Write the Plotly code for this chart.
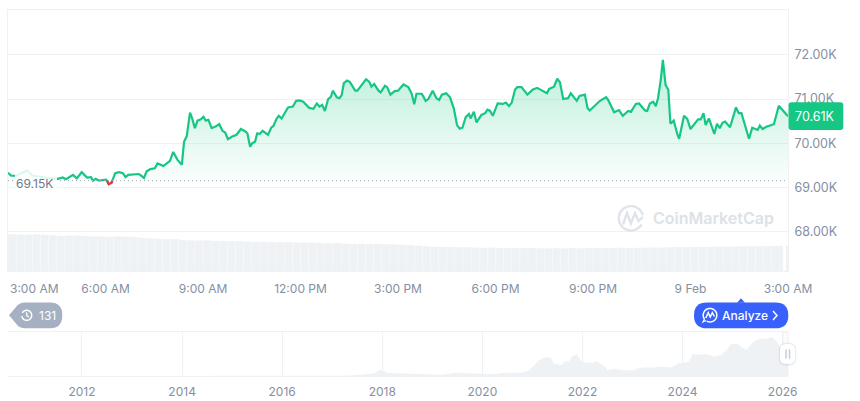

import math
import pandas as pd
import plotly.graph_objects as go

W = 860
H = 401
GREEN = '#16c784'
RED = '#ea3943'
GREY_TEXT = '#858fa2'
PALE = '#eff2f5'
FONT = 'Inter'

# main price line, minutes after 3:00 AM and price in thousands of USD
price_minutes = [
    0, 6, 15, 25, 35, 46, 59, 74, 92, 101,
    107, 120, 127, 136, 146, 153, 157, 162, 168, 181,
    186, 191, 198, 205, 212, 217, 222, 231, 241, 244,
    251, 256, 263, 271, 276, 287, 299, 305, 313, 321,
    325, 330, 336, 340, 345, 350, 356, 361, 365, 370,
    376, 382, 390, 396, 401, 406, 414, 422, 430, 439,
    442, 447, 451, 456, 460, 465, 470, 480, 486, 490,
    496, 500, 505, 517, 526, 532, 538, 545, 556, 564,
    570, 575, 580, 585, 591, 596, 600, 607, 612, 616,
    620, 626, 631, 641, 645, 661, 667, 671, 676, 684,
    688, 696, 700, 706, 714, 720, 730, 739, 745, 750,
    754, 764, 771, 776, 784, 791, 796, 801, 809, 816,
    823, 829, 834, 839, 845, 851, 854, 860, 865, 874,
    881, 885, 890, 895, 904, 914, 919, 925, 930, 936,
    940, 948, 959, 969, 977, 982, 995, 999, 1008, 1014,
    1019, 1025, 1034, 1039, 1050, 1055, 1065, 1070, 1074, 1093,
    1104, 1108, 1119, 1128, 1135, 1145, 1150, 1159, 1165, 1176,
    1180, 1185, 1191, 1196, 1200, 1205, 1209, 1214, 1219, 1223,
    1229, 1236, 1239, 1248, 1254, 1260, 1274, 1279, 1284, 1288,
    1294, 1304, 1309, 1314, 1319, 1324, 1333, 1344, 1349, 1354,
    1361, 1368, 1374, 1384, 1388, 1393, 1400, 1414, 1423, 1440,
]
price_values = [
    69.33, 69.26, 69.26, 69.32, 69.38, 69.26, 69.23, 69.21, 69.19, 69.22,
    69.18, 69.28, 69.20, 69.34, 69.22, 69.23, 69.15, 69.19, 69.15, 69.17,
    69.07, 69.10, 69.32, 69.34, 69.32, 69.23, 69.28, 69.29, 69.30, 69.28,
    69.21, 69.36, 69.41, 69.43, 69.54, 69.48, 69.60, 69.80, 69.62, 69.51,
    70.03, 70.16, 70.69, 70.56, 70.34, 70.51, 70.54, 70.60, 70.51, 70.53,
    70.34, 70.37, 70.43, 70.28, 70.24, 70.09, 70.15, 70.19, 70.32, 70.26,
    70.22, 69.92, 70.00, 70.03, 70.22, 70.21, 70.28, 70.19, 70.35, 70.39,
    70.56, 70.62, 70.56, 70.81, 70.83, 70.96, 70.97, 70.94, 70.80, 70.78,
    70.90, 70.83, 70.87, 70.73, 71.00, 71.05, 71.19, 71.04, 71.02, 71.09,
    71.36, 71.42, 71.39, 71.19, 71.19, 71.45, 71.39, 71.28, 71.34, 71.19,
    71.15, 71.30, 71.27, 71.10, 71.18, 71.19, 71.33, 71.27, 71.13, 70.88,
    71.12, 71.12, 70.96, 71.00, 71.19, 71.02, 70.98, 71.10, 71.13, 71.04,
    70.79, 70.41, 70.33, 70.35, 70.59, 70.66, 70.56, 70.71, 70.47, 70.64,
    70.68, 70.76, 70.73, 70.62, 70.90, 70.89, 70.92, 70.84, 70.92, 71.21,
    71.27, 71.27, 71.10, 71.22, 71.25, 71.22, 71.13, 71.23, 71.28, 71.46,
    71.38, 71.00, 71.02, 71.13, 70.96, 71.07, 71.10, 70.79, 70.74, 70.96,
    71.04, 70.98, 70.70, 70.75, 70.62, 70.73, 70.71, 70.89, 70.90, 70.74,
    70.73, 70.90, 70.94, 70.84, 71.02, 71.43, 71.89, 71.32, 71.21, 70.44,
    70.51, 70.19, 70.10, 70.62, 70.55, 70.32, 70.54, 70.54, 70.68, 70.41,
    70.56, 70.21, 70.44, 70.34, 70.46, 70.49, 70.36, 70.81, 70.68, 70.68,
    70.36, 70.10, 70.35, 70.30, 70.40, 70.32, 70.37, 70.43, 70.85, 70.61,
]
base_price = 69.15
last_price = 70.61

# the short stretch under the reference price
red_minutes = [183, 186, 191, 193]
red_values = [69.15, 69.07, 69.10, 69.15]

# volume bars, billions of USD
volume_values = [
    56.3, 56.0, 55.6, 56.1, 55.4, 54.7, 53.9, 54.2, 54.3, 53.6, 53.0, 52.8,
    52.5, 52.9, 52.7, 52.2, 51.0, 50.2, 49.3, 48.6, 48.9, 47.8, 47.0, 46.6,
    47.1, 46.4, 46.0, 45.7, 45.9, 45.2, 44.5, 44.9, 44.2, 43.8, 44.3, 43.6,
    43.9, 43.4, 43.0, 42.6, 42.9, 42.0, 41.7, 41.9, 41.3, 41.5, 41.0, 40.8,
    40.3, 39.7, 38.9, 37.9, 37.2, 37.0, 36.8, 36.3, 36.5, 35.9, 35.6, 35.8,
    35.4, 35.1, 35.3, 35.0, 35.2, 34.8, 34.6, 34.9, 34.7, 35.0, 34.8, 35.2,
    35.4, 35.1, 35.5, 35.7, 35.3, 35.6, 35.9, 36.2, 36.0, 36.4, 36.7, 36.5,
    37.0, 36.8, 37.2, 37.5, 37.3, 37.7, 37.9, 38.2, 38.0, 38.4, 38.6,
]
volume_tail_minutes = [1428, 1438]
volume_tail_widths = [6, 4]
volume_tail_values = [38.7, 38.9]

y_ticks = [68, 69, 70, 71, 72]
y_labels = ['68.00K', '69.00K', '70.00K', '71.00K', '72.00K']
x_tick_minutes = [180, 360, 540, 720, 900, 1080, 1260, 1440]
x_tick_labels = ['6:00 AM', '9:00 AM', '12:00 PM', '3:00 PM', '6:00 PM', '9:00 PM', '9 Feb', '3:00 AM']

# overview strip, BTC price history in thousands of USD
nav_dates = [
    '2010-07-10', '2012-01-01', '2013-03-01', '2013-12-01', '2014-06-01', '2015-01-01', '2016-01-01', '2016-12-01',
    '2017-03-01', '2017-06-01', '2017-09-01', '2017-11-01', '2017-12-17', '2018-01-15', '2018-02-15', '2018-05-01',
    '2018-08-01', '2018-11-01', '2018-12-15', '2019-03-01', '2019-06-26', '2019-09-01', '2019-12-15', '2020-03-15',
    '2020-06-01', '2020-08-15', '2020-10-08', '2020-12-06', '2021-01-01', '2021-01-26', '2021-02-17', '2021-03-15',
    '2021-04-20', '2021-05-18', '2021-06-02', '2021-07-27', '2021-09-02', '2021-09-24', '2021-10-20', '2021-11-22',
    '2021-12-20', '2022-01-26', '2022-02-17', '2022-03-15', '2022-04-10', '2022-05-15', '2022-06-20', '2022-07-01',
    '2022-08-18', '2022-10-08', '2022-11-25', '2023-01-12', '2023-02-06', '2023-03-25', '2023-06-06', '2023-07-27',
    '2023-10-08', '2023-12-06', '2024-02-17', '2024-03-15', '2024-05-01', '2024-06-06', '2024-07-12', '2024-08-18',
    '2024-10-08', '2024-11-18', '2024-12-20', '2025-02-06', '2025-03-18', '2025-04-12', '2025-05-26', '2025-07-20',
    '2025-09-02', '2025-10-12', '2025-11-15', '2025-12-10', '2026-02-09',
]
nav_values = [
    0.1, 0.1, 0.1, 0.9, 0.6, 0.3, 0.4, 0.9,
    1.1, 2.7, 4.2, 7.5, 19.3, 13.5, 9.5, 9.0,
    7.0, 5.5, 3.3, 3.9, 10.5, 9.8, 7.0, 5.2,
    9.5, 10.5, 10.0, 17.0, 29.0, 38.0, 50.0, 56.0,
    60.0, 57.0, 40.0, 35.0, 48.0, 45.0, 63.0, 68.0,
    48.0, 41.0, 43.0, 41.0, 47.0, 38.0, 27.0, 18.0,
    23.0, 19.0, 17.0, 17.0, 24.0, 27.0, 27.0, 30.0,
    27.0, 40.0, 45.0, 69.0, 67.0, 69.0, 67.0, 61.0,
    66.0, 80.0, 101.0, 101.0, 88.0, 83.0, 106.0, 117.0,
    117.0, 123.0, 111.0, 92.0, 70.0,
]
nav_years = ['2012-01-01', '2014-01-01', '2016-01-01', '2018-01-01', '2020-01-01', '2022-01-01', '2024-01-01', '2026-01-01']
nav_labels = ['2012', '2014', '2016', '2018', '2020', '2022', '2024', '2026']

START = pd.Timestamp('2026-02-08 03:00')


def to_time(minutes):
    return [START + pd.Timedelta(minutes=m) for m in minutes]


def px(x):
    return x / W


def py(y):
    return 1 - y / H


def poly(points, close=True):
    parts = [f'{"M" if i == 0 else "L"}{px(x):.5f},{py(y):.5f}' for i, (x, y) in enumerate(points)]
    return ' '.join(parts) + (' Z' if close else '')


def rounded(x0, y0, x1, y1, r):
    return (f'M{px(x0 + r):.5f},{py(y0):.5f} L{px(x1 - r):.5f},{py(y0):.5f} '
            f'Q{px(x1):.5f},{py(y0):.5f} {px(x1):.5f},{py(y0 + r):.5f} L{px(x1):.5f},{py(y1 - r):.5f} '
            f'Q{px(x1):.5f},{py(y1):.5f} {px(x1 - r):.5f},{py(y1):.5f} L{px(x0 + r):.5f},{py(y1):.5f} '
            f'Q{px(x0):.5f},{py(y1):.5f} {px(x0):.5f},{py(y1 - r):.5f} L{px(x0):.5f},{py(y0 + r):.5f} '
            f'Q{px(x0):.5f},{py(y0):.5f} {px(x0 + r):.5f},{py(y0):.5f} Z')


def arc(cx, cy, r, start, end, steps=40):
    pts = []
    for i in range(steps + 1):
        a = math.radians(start + (end - start) * i / steps)
        pts.append((cx + r * math.cos(a), cy + r * math.sin(a)))
    return pts


def shape(path, fill='rgba(0,0,0,0)', line=None, width=0):
    return dict(type='path', path=path, xref='paper', yref='paper', fillcolor=fill, layer='above',
                line=dict(color=line or 'rgba(0,0,0,0)', width=width))


def label(x, y, text, color=GREY_TEXT, size=12, anchor='left', weight=400):
    return dict(x=px(x), y=py(y), xref='paper', yref='paper', text=text, showarrow=False, xanchor=anchor,
                yanchor='middle', font=dict(family=FONT, size=size, color=color, weight=weight))


fig = go.Figure()

times = to_time(price_minutes)
fig.add_trace(go.Scatter(x=times, y=[base_price] * len(times), mode='lines', line=dict(width=0), hoverinfo='skip'))
fig.add_trace(go.Scatter(
    x=times, y=price_values, mode='lines', fill='tonexty',
    line=dict(color=GREEN, width=2.2),
    fillgradient=dict(type='vertical', start=72.0, stop=base_price,
                      colorscale=[[0, 'rgba(22,199,132,0.30)'], [1, 'rgba(22,199,132,0.02)']]),
))
fig.add_trace(go.Scatter(x=to_time(red_minutes), y=red_values, mode='lines', line=dict(color=RED, width=2.2)))
fig.add_trace(go.Scatter(
    x=to_time([0, 1440]), y=[base_price, base_price], mode='lines',
    line=dict(color='#a1a7bb', width=1, dash='1px 3px'),
))

bar_minutes = [7.5 + 15 * i for i in range(len(volume_values))] + volume_tail_minutes
bar_widths = [15] * len(volume_values) + volume_tail_widths
fig.add_trace(go.Bar(
    x=to_time(bar_minutes), y=volume_values + volume_tail_values, yaxis='y2',
    width=[w * 60000 * 0.97 for w in bar_widths], marker=dict(color=PALE, line=dict(width=0)),
))

fig.add_trace(go.Scatter(
    x=nav_dates, y=nav_values, xaxis='x2', yaxis='y3', mode='lines',
    line=dict(width=0), fill='tozeroy', fillcolor=PALE,
))

shapes = [
    # box behind the reference price label
    dict(type='rect', xref='paper', yref='paper', x0=px(15), x1=px(57), y0=py(190), y1=py(168), layer='above',
         fillcolor='rgba(255,255,255,0.85)', line=dict(width=0)),
    # price tag
    shape(rounded(788.5, 102.3, 843.3, 130, 3), fill=GREEN),
    # history pill
    shape(f'M{px(9):.5f},{py(315.3):.5f} L{px(16):.5f},{py(307):.5f} Q{px(19):.5f},{py(302.5):.5f} {px(25):.5f},{py(302.5):.5f} '
          f'L{px(50):.5f},{py(302.5):.5f} Q{px(62.3):.5f},{py(302.5):.5f} {px(62.3):.5f},{py(315.3):.5f} '
          f'Q{px(62.3):.5f},{py(328.3):.5f} {px(50):.5f},{py(328.3):.5f} L{px(25):.5f},{py(328.3):.5f} '
          f'Q{px(19):.5f},{py(328.3):.5f} {px(16):.5f},{py(323.5):.5f} Z', fill='#a6b0c3'),
    shape(poly(arc(26.7, 315.3, 5, -150, 170), close=False), line='white', width=1.5),
    shape(poly([(26.7, 312.3), (26.7, 315.6), (29, 317)], close=False), line='white', width=1.2),
    # analyze pill
    shape(rounded(694, 302.4, 788.3, 328.3, 12.9), fill='#3861fb'),
    shape(poly([(737, 302.8), (741, 298.3), (745, 302.8)]), fill='#3861fb'),
    shape(poly(arc(710, 315.2, 6.8, -215, 120), close=False), line='white', width=1.5),
    shape(poly([(706, 320.5), (703, 322), (704.5, 319)], close=False), line='white', width=1.2),
    shape(poly([(705.8, 318), (708.2, 312.6), (710.2, 317), (712.4, 312.6), (714.4, 316.5)], close=False), line='white', width=1.5),
    shape(poly([(773, 311), (777, 315.5), (773, 320)], close=False), line='white', width=1.5),
    # watermark logo
    shape(poly(arc(631, 218.3, 12.2, 30, 345), close=False), line='#dfe3ea', width=2.4),
    shape(poly([(623, 224.5), (627, 213), (630.8, 223.5), (635, 213), (638.5, 221), (643, 217)], close=False),
          line='#dfe3ea', width=2.4),
    # overview handle
    dict(type='rect', xref='paper', yref='paper', x0=px(783), x1=px(788), y0=py(376), y1=py(332), layer='above',
         fillcolor='rgba(239,242,245,0.25)', line=dict(color=PALE, width=1)),
    shape(rounded(778.5, 342.5, 796.5, 366, 7), fill='rgba(88,102,126,0.06)'),
    shape(rounded(779.3, 343.3, 795.7, 365, 6.5), fill='rgba(88,102,126,0.08)'),
    shape(rounded(780, 344, 795, 364, 6), fill='white'),
    dict(type='line', xref='paper', yref='paper', x0=px(786), x1=px(786), y0=py(349.5), y1=py(358.5), layer='above',
         line=dict(color='#c5ccd6', width=1.5)),
    dict(type='line', xref='paper', yref='paper', x0=px(789.5), x1=px(789.5), y0=py(349.5), y1=py(358.5), layer='above',
         line=dict(color='#c5ccd6', width=1.5)),
]

annotations = [
    label(14, 183, '69.15K', color='#6d788d', size=12),
    label(793, 116.2, '70.61K', color='white', size=12.5),
    label(8, 288, '3:00 AM'),
    label(36.5, 315.5, '131', color='white'),
    label(720, 315.5, 'Analyze', color='white', size=12, weight=500),
    label(651, 218, 'CoinMarketCap', color='#dde1e8', size=16, weight=600),
]

fig.update_layout(
    width=W, height=H, margin=dict(l=0, r=0, t=0, b=0),
    template='none', paper_bgcolor='white', plot_bgcolor='white',
    showlegend=False, hovermode=False, barmode='overlay',
    font=dict(family=FONT, size=12, color=GREY_TEXT),
    shapes=shapes, annotations=annotations,
    xaxis=dict(
        domain=[px(8), px(788)], range=to_time([0, 1440]), type='date',
        tickvals=to_time(x_tick_minutes), ticktext=x_tick_labels, tickfont=dict(size=12, color=GREY_TEXT),
        showgrid=False, zeroline=False, showline=True, mirror=True, linecolor=PALE, linewidth=1,
        ticks='outside', ticklen=7, tickcolor='rgba(0,0,0,0)', anchor='y',
    ),
    yaxis=dict(
        domain=[py(271), py(10)], range=[67.10, 73.02], side='right',
        tickvals=y_ticks, ticktext=y_labels, tickfont=dict(size=12.5, color=GREY_TEXT),
        gridcolor=PALE, gridwidth=1, zeroline=False, showline=True, mirror=True, linecolor=PALE, linewidth=1,
        ticks='outside', ticklen=3, tickcolor='rgba(0,0,0,0)', anchor='x',
    ),
    yaxis2=dict(domain=[py(271), py(10)], range=[0, 400], overlaying='y', visible=False),
    xaxis2=dict(
        domain=[px(8), px(788)], range=['2010-07-10', '2026-02-09'], type='date', anchor='y3',
        tickvals=nav_years, ticktext=nav_labels, tickfont=dict(size=12, color=GREY_TEXT),
        showgrid=True, gridcolor=PALE, gridwidth=1, zeroline=False, showline=True, mirror=True, linecolor=PALE, linewidth=1,
        ticks='outside', ticklen=5, tickcolor='rgba(0,0,0,0)',
    ),
    yaxis3=dict(domain=[py(376), py(332)], range=[0, 138.6], visible=False, anchor='x2'),
)

fig.write_html("out.html", config=dict(displayModeBar=False),
               post_script="document.body.style.margin='0';")
